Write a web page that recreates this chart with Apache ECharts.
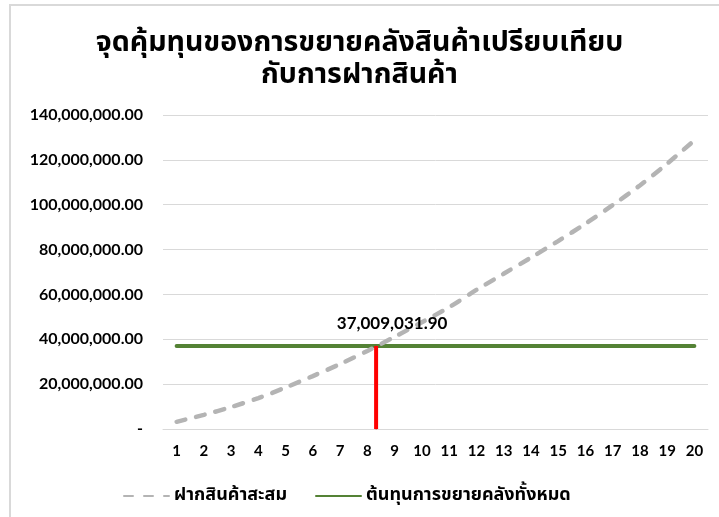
<!DOCTYPE html>
<html>
<head>
<meta charset="utf-8">
<script src="https://cdn.jsdelivr.net/npm/echarts@6/dist/echarts.min.js"></script>
<style>
  html, body { margin: 0; padding: 0; background: #fff; }
  #chart { width: 719px; height: 517px; }
</style>
</head>
<body>
<div id="chart"></div>
<script>
// data
var years = ['1', '2', '3', '4', '5', '6', '7', '8', '9', '10',
    '11', '12', '13', '14', '15', '16', '17', '18', '19', '20'];

// cumulative storage cost (baht)
var depositTotal = [3200000, 6300000, 9800000, 13800000, 18500000, 23600000, 29000000, 34800000, 41100000, 47600000,
    54300000, 62000000, 69200000, 76400000, 83800000, 91500000, 99800000, 108600000, 118300000, 128700000];

// total warehouse expansion cost (flat)
var expandCost = 37009031.90;
var expandTotal = years.map(function () { return expandCost; });

// break-even point (year)
var breakEvenYear = 8.32;

var seriesNames = ['ฝากสินค้าสะสม', 'ต้นทุนการขยายคลังทั้งหมด'];

var thaiFont = "'Noto Sans Thai', Tahoma, 'Noto Sans', sans-serif";
var numFont = "Lato, 'Open Sans', sans-serif";

function fmtMoney(v) {
    if (v === 0) return '-';
    return v.toLocaleString('en-US', { minimumFractionDigits: 2, maximumFractionDigits: 2 });
}

var chart = echarts.init(document.getElementById('chart'));

var option = {
    backgroundColor: '#fff',
    animation: false,
    title: {
        text: 'จุดคุ้มทุนของการขยายคลังสินค้าเปรียบเทียบ\nกับการฝากสินค้า',
        left: 'center',
        top: 24,
        padding: [5, 5, 5, 15],
        textStyle: {
            fontFamily: thaiFont,
            fontSize: 28.5,
            fontWeight: 'bold',
            color: '#000',
            lineHeight: 32
        }
    },
    legend: {
        data: seriesNames,
        left: 118,
        top: 482,
        itemWidth: 45,
        itemHeight: 14,
        itemGap: 28,
        itemStyle: { opacity: 0 },
        textStyle: {
            fontFamily: thaiFont,
            fontSize: 18,
            fontWeight: 'bold',
            color: '#000'
        }
    },
    grid: {
        left: 163,
        right: 11,
        top: 115,
        bottom: 88
    },
    xAxis: [
        {
            type: 'category',
            data: years,
            boundaryGap: true,
            axisLine: { lineStyle: { color: '#d9d9d9', width: 1 } },
            axisTick: { show: false },
            axisLabel: {
                margin: 15,
                fontFamily: numFont,
                fontSize: 15,
                fontWeight: 'bold',
                color: '#000',
                interval: 0
            }
        },
        {
            // hidden value axis for the break-even marker
            type: 'value',
            min: 0.5,
            max: 20.5,
            show: false
        }
    ],
    yAxis: {
        type: 'value',
        min: 0,
        max: 140000000,
        interval: 20000000,
        axisLine: { show: false },
        axisTick: { show: false },
        splitLine: { lineStyle: { color: '#d9d9d9', width: 1 } },
        axisLabel: {
            margin: 20,
            fontFamily: numFont,
            fontSize: 16,
            fontWeight: 'bold',
            color: '#000',
            formatter: fmtMoney
        }
    },
    graphic: [
        { type: 'line', shape: { x1: 9, y1: 5, x2: 719, y2: 5 }, style: { stroke: '#d9d9d9', lineWidth: 2 } },
        { type: 'line', shape: { x1: 10, y1: 5, x2: 10, y2: 517 }, style: { stroke: '#d9d9d9', lineWidth: 2 } }
    ],
    series: [
        {
            name: seriesNames[0],
            type: 'line',
            data: depositTotal,
            symbol: 'none',
            smooth: 0.3,
            lineStyle: { color: '#b4b4b4', width: 4.5, type: [9, 11], cap: 'round' },
            itemStyle: { color: '#b4b4b4' },
            z: 3
        },
        {
            name: seriesNames[1],
            type: 'line',
            data: expandTotal,
            symbol: 'none',
            lineStyle: { color: '#548235', width: 4, cap: 'round' },
            itemStyle: { color: '#548235' },
            z: 2
        },
        {
            name: 'breakeven',
            type: 'line',
            xAxisIndex: 1,
            data: [
                [breakEvenYear, 0],
                {
                    value: [breakEvenYear, expandCost],
                    label: {
                        show: true,
                        position: 'top',
                        offset: [16, -8],
                        formatter: function (p) { return fmtMoney(p.value[1]); },
                        fontFamily: numFont,
                        fontSize: 17,
                        fontWeight: 'bold',
                        color: '#000'
                    }
                }
            ],
            symbol: 'circle',
            symbolSize: 1,
            showSymbol: true,
            itemStyle: { color: '#ff0000' },
            lineStyle: { color: '#ff0000', width: 4 },
            z: 4
        }
    ]
};

chart.setOption(option);
</script>
</body>
</html>
